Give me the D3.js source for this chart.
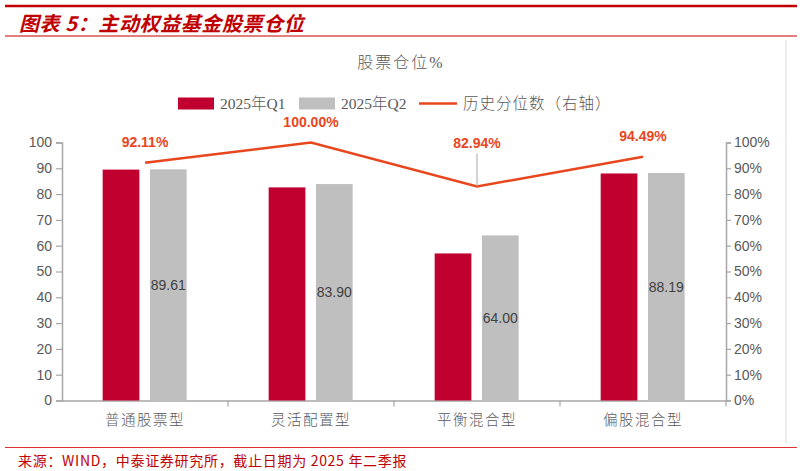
<!DOCTYPE html>
<html>
<head>
<meta charset="utf-8">
<script src="https://cdn.jsdelivr.net/npm/d3@7"></script>
<style>
  body { margin: 0; background: #fff; }
  svg { display: block; }
</style>
</head>
<body>
<div id="chart"></div>
<script>
// data
var categories = ['普通股票型', '灵活配置型', '平衡混合型', '偏股混合型'];
var q1Values = [89.5, 82.6, 57.0, 88.0];
var q2Values = [89.61, 83.90, 64.00, 88.19];
var pctValues = [92.11, 100.00, 82.94, 94.49];
var leftTicks = [0, 10, 20, 30, 40, 50, 60, 70, 80, 90, 100];
var rightTicks = [0, 0.1, 0.2, 0.3, 0.4, 0.5, 0.6, 0.7, 0.8, 0.9, 1.0];
var seriesNames = ['2025年Q1', '2025年Q2', '历史分位数（右轴）'];

var width = 803, height = 471;
var RED = '#C0002F', GREY = '#BFBFBF', LINE = '#E8461C', TXT = '#595959', AXIS = '#A6A6A6';
var SERIF = '"Liberation Serif", "Noto Sans CJK SC", serif';
var SANS = '"Liberation Sans", Arial, sans-serif';
var CJK = '"Noto Sans CJK SC", sans-serif';

var svg = d3.select('#chart').append('svg')
	.attr('width', width)
	.attr('height', height);

// header
svg.append('line').attr('x1', 5).attr('x2', 797).attr('y1', 6).attr('y2', 6)
	.style('stroke', '#C00000').style('stroke-width', 2.5);
svg.append('text')
	.attr('x', 19).attr('y', 31)
	.style('font-family', CJK).style('font-size', '20px').style('font-weight', 'bold')
	.style('font-style', 'italic').style('letter-spacing', '0.6px').style('fill', '#C00000')
	.text('图表 5：主动权益基金股票仓位');
svg.append('line').attr('x1', 5).attr('x2', 797).attr('y1', 36).attr('y2', 36)
	.style('stroke', '#D9534F').style('stroke-width', 1.5);

// light frame on the right
svg.append('line').attr('x1', 786).attr('x2', 786).attr('y1', 40).attr('y2', 443)
	.style('stroke', '#D9D9D9').style('stroke-width', 1);

// footer
svg.append('line').attr('x1', 5).attr('x2', 797).attr('y1', 447.5).attr('y2', 447.5)
	.style('stroke', '#E03030').style('stroke-width', 1);
svg.append('text')
	.attr('x', 18).attr('y', 466)
	.style('font-family', CJK).style('font-size', '14px').style('letter-spacing', '0.7px')
	.style('fill', '#C00000')
	.text('来源：WIND，中泰证券研究所，截止日期为 2025 年二季报');

// chart title
svg.append('text')
	.attr('x', 401).attr('y', 68)
	.attr('text-anchor', 'middle')
	.style('font-family', SERIF).style('font-size', '16px').style('font-weight', 300)
	.style('letter-spacing', '2px').style('fill', TXT)
	.text('股票仓位%');

// scales
var plotLeft = 62, plotRight = 726, plotTop = 142.5, plotBottom = 400.5;

var x = d3.scaleBand()
	.domain(categories)
	.range([plotLeft, plotRight]);

var xInner = d3.scaleBand()
	.domain(['q1', 'q2'])
	.range([x.bandwidth() * 0.245, x.bandwidth() * 0.751])
	.paddingInner(0.224);

var y = d3.scaleLinear().domain([0, 100]).range([plotBottom, plotTop]);
var yR = d3.scaleLinear().domain([0, 1]).range([plotBottom, plotTop]);

// axes
var leftAxis = svg.append('g')
	.attr('transform', 'translate(' + plotLeft + ',0)')
	.call(d3.axisLeft(y).tickValues(leftTicks).tickSize(6).tickPadding(4));
var rightAxis = svg.append('g')
	.attr('transform', 'translate(' + plotRight + ',0)')
	.call(d3.axisRight(yR).tickValues(rightTicks).tickSize(5).tickPadding(3).tickFormat(d3.format('.0%')));
var bottomAxis = svg.append('g')
	.attr('transform', 'translate(0,' + plotBottom + ')')
	.call(d3.axisBottom(x).tickSize(0).tickPadding(14));

[leftAxis, rightAxis, bottomAxis].forEach(function(a) {
	a.select('.domain').style('stroke', AXIS).style('stroke-width', 1.5);
	a.selectAll('.tick line').style('stroke', AXIS).style('stroke-width', 1.2);
	a.selectAll('text').style('fill', TXT);
});
leftAxis.selectAll('text').style('font-family', SANS).style('font-size', '14px');
rightAxis.selectAll('text').style('font-family', SANS).style('font-size', '14px');
bottomAxis.selectAll('text').style('font-family', SERIF).style('font-size', '14.5px')
	.style('font-weight', 300).style('letter-spacing', '1.5px');

// category separator ticks
svg.append('g').selectAll('line')
	.data(categories.slice(1).concat(['end']))
	.enter().append('line')
	.attr('x1', function(d) { return d === 'end' ? plotRight : x(d); })
	.attr('x2', function(d) { return d === 'end' ? plotRight : x(d); })
	.attr('y1', plotBottom)
	.attr('y2', plotBottom + 6)
	.style('stroke', AXIS).style('stroke-width', 1.2);

// bars
var groups = svg.append('g').selectAll('g')
	.data(categories)
	.enter().append('g')
	.attr('transform', function(d) { return 'translate(' + x(d) + ',0)'; });

groups.append('rect')
	.attr('x', xInner('q1'))
	.attr('width', xInner.bandwidth())
	.attr('y', function(d, i) { return y(q1Values[i]); })
	.attr('height', function(d, i) { return plotBottom - y(q1Values[i]); })
	.style('fill', RED);

groups.append('rect')
	.attr('x', xInner('q2'))
	.attr('width', xInner.bandwidth())
	.attr('y', function(d, i) { return y(q2Values[i]); })
	.attr('height', function(d, i) { return plotBottom - y(q2Values[i]); })
	.style('fill', GREY);

groups.append('text')
	.attr('x', xInner('q2') + xInner.bandwidth() / 2)
	.attr('y', function(d, i) { return (y(q2Values[i]) + plotBottom) / 2 + 5; })
	.attr('text-anchor', 'middle')
	.style('font-family', SANS).style('font-size', '14px').style('fill', '#404040')
	.text(function(d, i) { return q2Values[i].toFixed(2); });

// percentile line
var cx = function(d) { return x(d) + x.bandwidth() / 2; };
var line = d3.line()
	.x(function(d) { return cx(d); })
	.y(function(d, i) { return yR(pctValues[i] / 100); });

svg.append('path')
	.datum(categories)
	.attr('d', line)
	.style('fill', 'none')
	.style('stroke', LINE)
	.style('stroke-width', 2.5);

// labels: the dip gets a leader line
var lift = function(i) { return i === 2 ? 44 : 21; };
svg.append('g').selectAll('line')
	.data(categories.filter(function(d, i) { return lift(i) > 30; }))
	.enter().append('line')
	.attr('x1', cx).attr('x2', cx)
	.attr('y1', function(d) { var i = categories.indexOf(d); return yR(pctValues[i] / 100) - 33; })
	.attr('y2', function(d) { var i = categories.indexOf(d); return yR(pctValues[i] / 100); })
	.style('stroke', '#A6A6A6').style('stroke-width', 1);

svg.append('g').selectAll('text')
	.data(categories)
	.enter().append('text')
	.attr('x', cx)
	.attr('y', function(d, i) { return yR(pctValues[i] / 100) - lift(i) + 5; })
	.attr('text-anchor', 'middle')
	.style('font-family', SANS).style('font-size', '14px').style('font-weight', 'bold')
	.style('fill', LINE)
	.text(function(d, i) { return pctValues[i].toFixed(2) + '%'; });

// legend
var legend = svg.append('g').attr('transform', 'translate(0,103.5)');
legend.append('rect').attr('x', 178).attr('y', -6).attr('width', 36).attr('height', 12).style('fill', RED);
legend.append('rect').attr('x', 299).attr('y', -6).attr('width', 36).attr('height', 12).style('fill', GREY);
legend.append('line').attr('x1', 419).attr('x2', 457).attr('y1', 0).attr('y2', 0)
	.style('stroke', LINE).style('stroke-width', 2.5);
legend.selectAll('text')
	.data(seriesNames)
	.enter().append('text')
	.attr('x', function(d, i) { return [220, 341, 463][i]; })
	.attr('y', 5.5)
	.style('font-family', SERIF).style('font-size', '15.5px').style('font-weight', 300)
	.style('letter-spacing', function(d, i) { return i === 2 ? '1px' : '0px'; })
	.style('fill', TXT)
	.text(function(d) { return d; });
</script>
</body>
</html>
